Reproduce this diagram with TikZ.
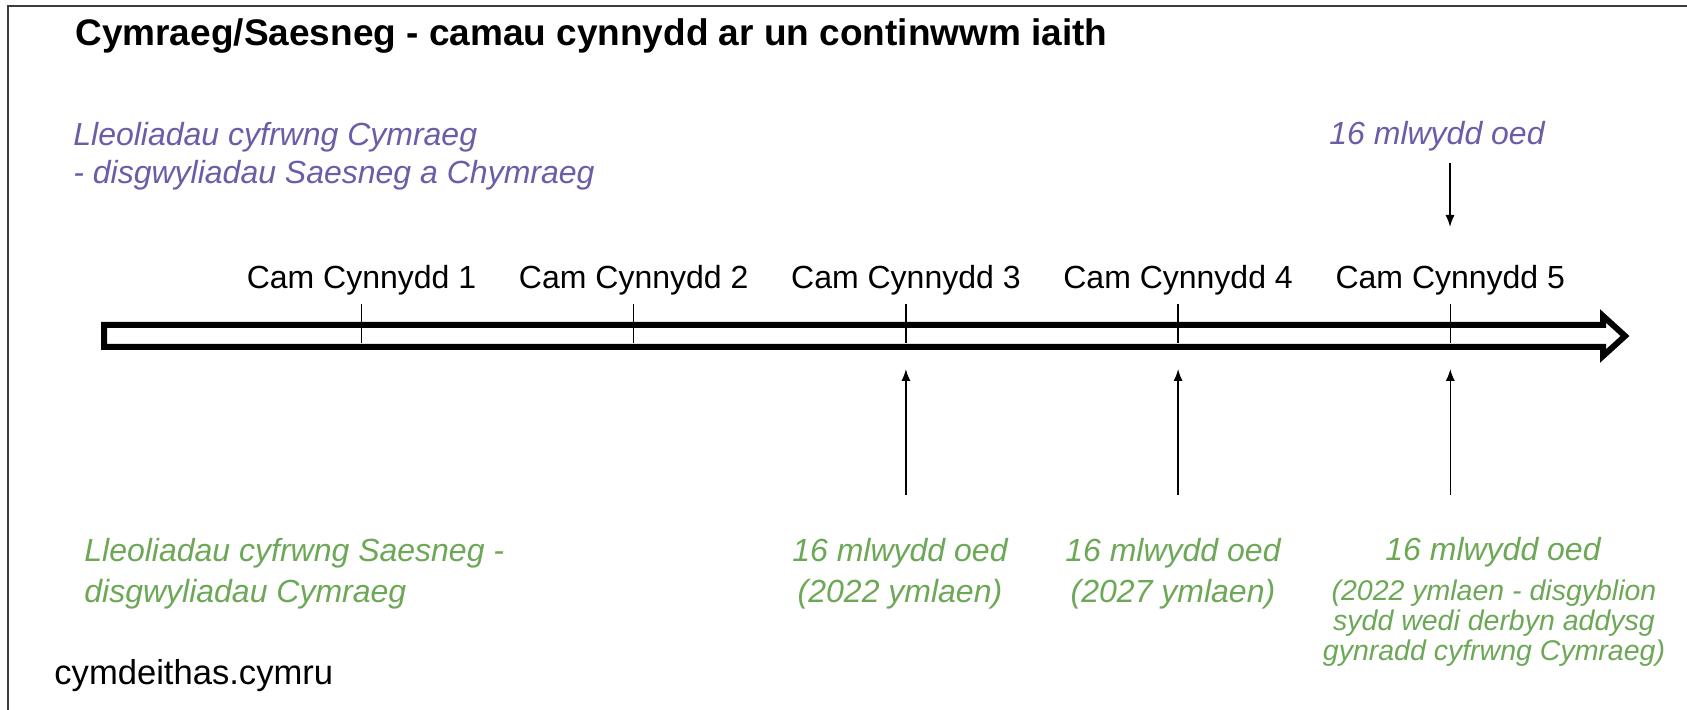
\documentclass[tikz,border=0pt]{standalone}
\usepackage{fontspec}
\setmainfont{Liberation Sans}
\usepackage{tikz}
\usetikzlibrary{arrows.meta}
\definecolor{welshpurple}{RGB}{106,94,168}
\definecolor{welshgreen}{RGB}{108,168,86}
\definecolor{framegray}{RGB}{60,60,60}
\tikzstyle{line} = [draw, -{Latex[length=6pt,width=4.6pt]}, line width=0.8pt]
\tikzstyle{txt} = [inner sep=0pt, font=\fontsize{16}{19.5}\selectfont]
\tikzstyle{purpletxt} = [txt, text=welshpurple, font=\itshape\fontsize{16}{19}\selectfont]
\tikzstyle{greentxt} = [txt, text=welshgreen, font=\itshape\fontsize{16}{20.5}\selectfont]
\tikzstyle{smalltxt} = [txt, text=welshgreen, font=\itshape\fontsize{14.25}{15.2}\selectfont]

\begin{document}
\begin{tikzpicture}[x=0.5pt, y=-0.5pt]
            \useasboundingbox (0,0) rectangle (1687,710);
            \fill[white] (0,0) rectangle (1687,710);
            % frame
            \draw [framegray, line width=1.2pt] (8,710) -- (8,6) -- (1687,6);

            \node[anchor=base west, inner sep=0pt, font=\bfseries\fontsize{18.5}{22}\selectfont] (title) at (75,46) {Cymraeg/Saesneg - camau cynnydd ar un continwwm iaith};

            \node[purpletxt, anchor=north west, align=left] (wmedium) at (73,122) {Lleoliadau cyfrwng Cymraeg\\- disgwyliadau Saesneg a Chymraeg};
            \node[purpletxt, anchor=base] (wage) at (1437,145) {16 mlwydd oed};

            % timeline
            \draw [line width=3pt, fill=white] (104,325) -- (1603,325) -- (1603,316) -- (1625,336) -- (1603,356) -- (1603,347) -- (104,347) -- cycle;
            \foreach \i in {1,...,5} {
              \coordinate (t\i) at (361.5+272.2*\i-272.2, 304);
              \draw [line width=0.75pt] (t\i) -- ++(0,39);
              \node[txt, anchor=base] (cam\i) at (361.5+272.2*\i-272.2, 289) {Cam Cynnydd \i};
            }

            \coordinate (wtop) at (1450,163);
            \coordinate (wbot) at (1450,227);
            \draw [line] (wtop) -- (wbot);

            \node[greentxt, anchor=north west, align=left] (emedium) at (84,538) {Lleoliadau cyfrwng Saesneg -\\disgwyliadau Cymraeg};
            \node[greentxt, anchor=north, align=center] (age3) at (900,538) {16 mlwydd oed\\(2022 ymlaen)};
            \node[greentxt, anchor=north, align=center] (age4) at (1173,538) {16 mlwydd oed\\(2027 ymlaen)};
            \node[greentxt, anchor=base] (age5) at (1493,561) {16 mlwydd oed};
            \node[smalltxt, anchor=north, align=center] (note5) at (1494,579) {(2022 ymlaen - disgyblion\\sydd wedi derbyn addysg\\gynradd cyfrwng Cymraeg)};

            \foreach \i in {3,4,5} {
              \coordinate (foot\i) at (361.5+272.2*\i-272.2, 495);
              \coordinate (tip\i) at (361.5+272.2*\i-272.2, 369);
              \draw [line] (foot\i) -- (tip\i);
            }

            \node[inner sep=0pt, anchor=base west, font=\fontsize{17.3}{20}\selectfont] (site) at (54,684) {cymdeithas.cymru};
\end{tikzpicture}
\end{document}
